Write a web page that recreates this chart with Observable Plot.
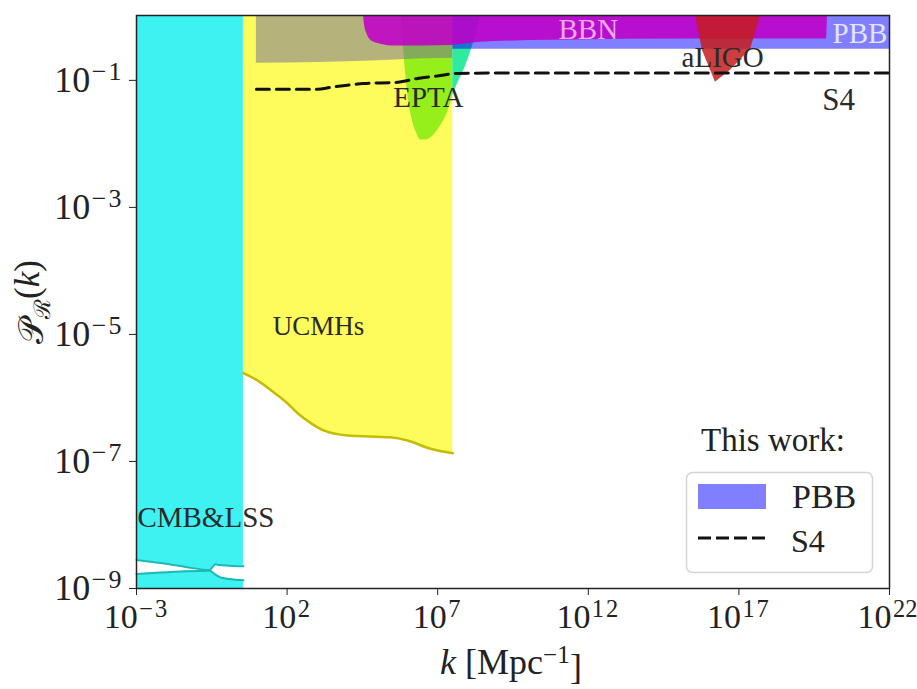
<!DOCTYPE html>
<html>
<head>
<meta charset="utf-8">
<script src="https://cdn.jsdelivr.net/npm/d3@7"></script>
<script src="https://cdn.jsdelivr.net/npm/@observablehq/plot@0.6"></script>
<style>
  body { margin: 0; background: #fff; }
  #chart { width: 917px; height: 689px; }
</style>
</head>
<body>
<div id="chart"></div>
<script>
// All values are log10 of k [Mpc^-1] and log10 of P_R(k)
const xTickExp = [-3, 2, 7, 12, 17, 22];
const yTickExp = [-9, -7, -5, -3, -1];

// CMB & LSS: the two edges of the narrow allowed gap near the bottom
const cmbLogK   = [-3, -2.2, -1.37, -0.58, -0.38, -0.24, 0.09, 0.55];
const cmbUpperP = [-8.55, -8.60, -8.66, -8.71, -8.62, -8.63, -8.64, -8.65];
const cmbLowerP = [-8.77, -8.75, -8.73, -8.72, -8.78, -8.82, -8.85, -8.87];

// UCMHs lower bound
const ucmhLogK = [0.55, 1.0, 1.55, 2.0, 2.35, 2.8, 3.21, 4.01, 5.43, 6.0, 6.76, 7.5];
const ucmhLogP = [-5.61, -5.72, -5.91, -6.08, -6.24, -6.40, -6.51, -6.59, -6.62, -6.67, -6.80, -6.87];

// EPTA lower bound
const eptaLogK = [5.80, 5.90, 6.03, 6.16, 6.30, 6.43, 6.59, 6.83, 7.09, 7.33, 7.5, 7.66, 7.82, 7.99, 8.16, 8.32, 8.42];
const eptaLogP = [0.02, -0.69, -1.31, -1.63, -1.83, -1.94, -1.94, -1.88, -1.72, -1.50, -1.24, -1.05, -0.89, -0.69, -0.45, -0.21, 0.02];

// Grey band on top of the UCMH region
const greyLogK = [0.98, 3.0, 5.0, 6.5, 7.5];
const greyLogP = [-0.73, -0.72, -0.69, -0.66, -0.65];

// This work: PBB bound
const pbbLogK = [7.5, 22];
const pbbLogP = [-0.51, -0.51];

// BBN lower bound
const bbnLogK = [4.54, 4.57, 4.67, 4.84, 5.10, 5.60, 7.42, 8.42, 10.75, 15.73, 19.91, 19.94];
const bbnLogP = [0.02, -0.13, -0.29, -0.39, -0.43, -0.46, -0.45, -0.40, -0.37, -0.35, -0.35, 0.02];

// aLIGO lower bound
const aligoLogK = [15.56, 15.79, 16.06, 16.22, 16.72, 17.39, 17.72];
const aligoLogP = [0.02, -0.53, -0.84, -1.03, -0.84, -0.51, 0.02];

// This work: S4 forecast
const s4LogK = [0.98, 3.01, 3.44, 4.54, 5.67, 6.33, 6.99, 7.66, 9.42, 22];
const s4LogP = [-1.14, -1.14, -1.11, -1.05, -1.03, -0.97, -0.93, -0.89, -0.885, -0.885];

// Region names
const regionNames = ["BBN", "PBB", "aLIGO", "EPTA", "S4", "UCMHs", "CMB&LSS"];
const regionLogK  = [12.0, 21.93, 16.46, 6.69, 20.31, 3.04, -2.97];
const regionLogP  = [-0.21, -0.26, -0.65, -1.28, -1.31, -4.87, -7.88];

const TOP = 1.05;
const pts = (ks, ps) => ks.map((k, i) => ({k: 10 ** k, p: 10 ** ps[i]}));

const cmbTop = pts(cmbLogK, cmbUpperP);
const cmbBottom = pts(cmbLogK, cmbLowerP);
const ucmh = pts(ucmhLogK, ucmhLogP);
const epta = pts(eptaLogK, eptaLogP);
const eptaIn = epta.filter(d => d.k <= 10 ** 7.5 * 1.0001);
const eptaOut = epta.filter(d => d.k >= 10 ** 7.5 * 0.9999);
const grey = pts(greyLogK, greyLogP);
const pbb = pts(pbbLogK, pbbLogP);
const bbn = pts(bbnLogK, bbnLogP);
const aligo = pts(aligoLogK, aligoLogP);
const s4 = pts(s4LogK, s4LogP);
const labels = regionNames.map((name, i) => ({name, k: 10 ** regionLogK[i], p: 10 ** regionLogP[i]}));

const serif = "Liberation Serif, Times New Roman, serif";
const labelColor = d => d.name === "BBN" ? "#f4a8f0" : d.name === "PBB" ? "#e4e4ff" : "#2a2a2a";
const labelSize = d => d.name === "UCMHs" ? 27 : d.name === "S4" ? 31 : 29;

const svg = Plot.plot({
  width: 917,
  height: 689,
  marginTop: 15,
  marginRight: 28,
  marginBottom: 101,
  marginLeft: 136,
  style: {fontFamily: serif, background: "#fff"},
  x: {type: "log", domain: [1e-3, 1e22]},
  y: {type: "log", domain: [1e-9, TOP]},
  marks: [
    // CMB & LSS
    Plot.areaY(cmbTop, {x: "k", y1: "p", y2: TOP, fill: "#3ef2f2", curve: "monotone-x"}),
    Plot.areaY(cmbBottom, {x: "k", y1: 1e-9, y2: "p", fill: "#3ef2f2", curve: "monotone-x"}),
    Plot.line(cmbTop, {x: "k", y: "p", stroke: "#1cb8b8", strokeWidth: 2, curve: "monotone-x"}),
    Plot.line(cmbBottom, {x: "k", y: "p", stroke: "#1cb8b8", strokeWidth: 2, curve: "monotone-x"}),
    // UCMHs
    Plot.areaY(ucmh, {x: "k", y1: "p", y2: TOP, fill: "#fdfc5c", curve: "monotone-x"}),
    Plot.line(ucmh, {x: "k", y: "p", stroke: "#c4bc00", strokeWidth: 2.5, curve: "monotone-x"}),
    // EPTA
    Plot.areaY(eptaIn, {x: "k", y1: "p", y2: TOP, fill: "#96ee1a", curve: "monotone-x"}),
    Plot.areaY(eptaOut, {x: "k", y1: "p", y2: TOP, fill: "#2eeba0", curve: "monotone-x"}),
    // grey band
    Plot.areaY(grey, {x: "k", y1: "p", y2: TOP, fill: "#6d6a9a", fillOpacity: 0.5, curve: "monotone-x"}),
    // PBB
    Plot.areaY(pbb, {x: "k", y1: "p", y2: TOP, fill: "blue", fillOpacity: 0.5}),
    // BBN
    Plot.areaY(bbn, {x: "k", y1: "p", y2: TOP, fill: "#c000c8", fillOpacity: 0.88, curve: "monotone-x"}),
    // aLIGO
    Plot.areaY(aligo, {x: "k", y1: "p", y2: TOP, fill: "#c41c1c", fillOpacity: 0.85}),
    // S4
    Plot.line(s4, {x: "k", y: "p", stroke: "#111", strokeWidth: 3, strokeDasharray: "13,7", curve: "monotone-x"}),
    // region names
    Plot.text(labels.filter(d => d.name !== "PBB" && d.name !== "CMB&LSS"), {
      x: "k", y: "p", text: "name", fontFamily: serif, fontSize: labelSize, fill: labelColor, textAnchor: "middle"
    }),
    Plot.text(labels.filter(d => d.name === "PBB"), {
      x: "k", y: "p", text: "name", fontFamily: serif, fontSize: 29, fill: labelColor, textAnchor: "end"
    }),
    Plot.text(labels.filter(d => d.name === "CMB&LSS"), {
      x: "k", y: "p", text: "name", fontFamily: serif, fontSize: 29, fill: labelColor, textAnchor: "start"
    }),
    Plot.frame({stroke: "#222", strokeWidth: 1.5}),
    Plot.axisX({
      ticks: xTickExp.map(e => 10 ** e), tickFormat: d => "10^" + Math.round(Math.log10(d)),
      tickSize: 7, tickPadding: 8, fontSize: 34, fontFamily: serif, color: "#222", label: null
    }),
    Plot.axisY({
      ticks: yTickExp.map(e => 10 ** e), tickFormat: d => "10^" + Math.round(Math.log10(d)),
      tickSize: 7, tickPadding: 6, fontSize: 36, fontFamily: serif, color: "#222", label: null
    })
  ]
});

// Tick labels as 10 with a raised exponent
d3.select(svg).selectAll('g[aria-label="x-axis tick label"] text, g[aria-label="y-axis tick label"] text').each(function () {
  const t = this.textContent;
  if (!t.startsWith("10^")) return;
  const exp = t.slice(3).replace("-", "\u2212");
  const sel = d3.select(this);
  sel.text(null);
  sel.append("tspan").text("10");
  sel.append("tspan").attr("dx", "0.06em").attr("dy", "-0.45em").attr("font-size", "0.72em")
    .attr("letter-spacing", exp === "22" ? null : "0.08em").text(exp);
  // keep the last x label inside the page
  if (exp === "22") sel.attr("text-anchor", "end").attr("dx", 28);
});

const root = d3.select(svg);

// Axis titles
const xt = root.append("text")
  .attr("x", 511).attr("y", 674)
  .attr("text-anchor", "middle")
  .attr("font-family", serif).attr("font-size", 36).attr("fill", "#222");
xt.append("tspan").attr("font-style", "italic").text("k");
xt.append("tspan").text(" [Mpc");
xt.append("tspan").attr("dy", "-0.45em").attr("font-size", "0.7em").text("\u22121");
xt.append("tspan").attr("dy", "0.45em").text("]");

const yt = root.append("text")
  .attr("transform", "translate(43,302) rotate(-90)")
  .attr("text-anchor", "middle")
  .attr("font-family", serif).attr("font-size", 35).attr("fill", "#222");
yt.append("tspan").text("\u{1D4AB}");
yt.append("tspan").attr("dy", "0.3em").attr("font-size", "0.65em").text("\u211B");
yt.append("tspan").attr("dy", "-0.3em").text("(");
yt.append("tspan").attr("font-style", "italic").text("k");
yt.append("tspan").text(")");

// Legend for this work
const lg = root.append("g").attr("fill", "#222");
lg.append("text").attr("x", 773).attr("y", 451).attr("text-anchor", "middle")
  .attr("font-family", serif).attr("font-size", 33).text("This work:");
lg.append("rect").attr("x", 686.5).attr("y", 472.5).attr("width", 186).attr("height", 100)
  .attr("rx", 6).attr("fill", "#fff").attr("fill-opacity", 0.85).attr("stroke", "#d4d4d4").attr("stroke-width", 1.5);
lg.append("rect").attr("x", 698).attr("y", 484).attr("width", 68).attr("height", 25)
  .attr("fill", "blue").attr("fill-opacity", 0.5);
lg.append("text").attr("x", 792).attr("y", 508).attr("text-anchor", "start")
  .attr("font-family", serif).attr("font-size", 34).text("PBB");
lg.append("line").attr("x1", 698).attr("x2", 766).attr("y1", 538).attr("y2", 538)
  .attr("stroke", "#111").attr("stroke-width", 3).attr("stroke-dasharray", "13,5");
lg.append("text").attr("x", 791).attr("y", 552).attr("text-anchor", "start")
  .attr("font-family", serif).attr("font-size", 32).text("S4");

document.getElementById("chart").appendChild(svg);
</script>
</body>
</html>
